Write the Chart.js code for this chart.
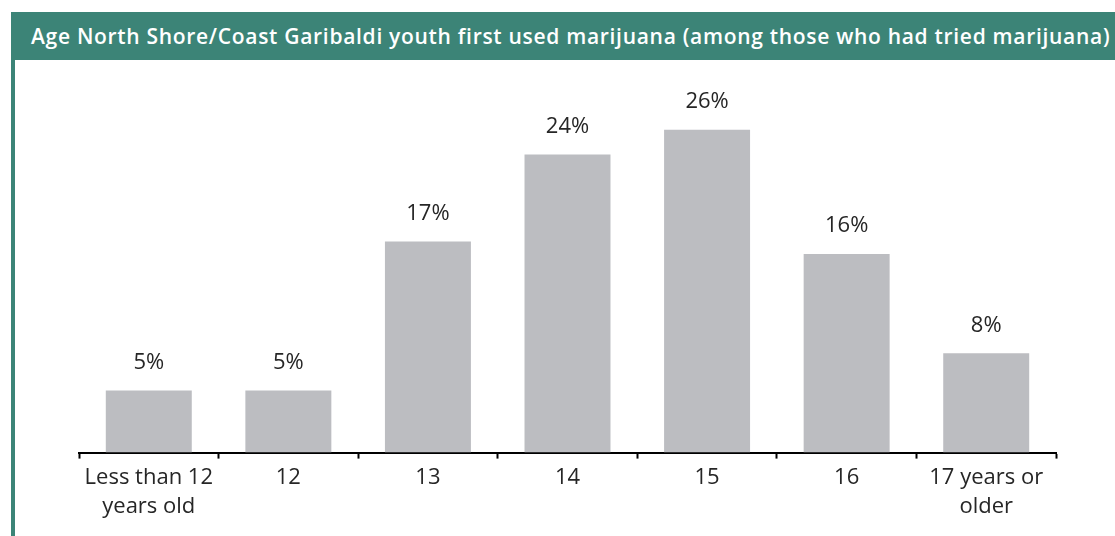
<!DOCTYPE html>
<html lang="en">
<head>
    <meta charset="UTF-8">
    <title>Age first used marijuana</title>
    <script src="https://cdn.jsdelivr.net/npm/chart.js"></script>
    <style>
        body { margin: 0; background: #fff; font-family: "Open Sans", sans-serif; }
        #panel {
            position: absolute; left: 11px; top: 12px; width: 1104px; height: 524px;
            border-left: 4px solid #3c8477; box-sizing: border-box;
        }
        #heading {
            height: 48px; line-height: 48px; background: #3c8477; color: #fff;
            font-weight: 600; font-size: 21px; letter-spacing: 0.7px; padding-left: 20px; margin-left: -4px;
            white-space: nowrap; overflow: hidden;
        }
        #wrap { position: absolute; left: 0; top: 48px; width: 1100px; height: 476px; }
    </style>
</head>
<body>
    <div id="panel">
        <div id="heading">Age North Shore/Coast Garibaldi youth first used marijuana (among those who had tried marijuana)</div>
        <div id="wrap"><canvas id="myChart"></canvas></div>
    </div>

    <script>
        const ages = [['Less than 12', 'years old'], '12', '13', '14', '15', '16', ['17 years or', 'older']];
        const percents = [5, 5, 17, 24, 26, 16, 8];

        const barColor = '#bcbdc1';
        const textColor = '#262626';

        // writes the percentage over each bar
        const valueLabels = {
            id: 'valueLabels',
            afterDatasetsDraw(chart) {
                const ctx = chart.ctx;
                const meta = chart.getDatasetMeta(0);
                ctx.save();
                ctx.font = '22px "Open Sans"';
                ctx.fillStyle = textColor;
                ctx.textAlign = 'center';
                ctx.textBaseline = 'bottom';
                meta.data.forEach((bar, i) => {
                    ctx.fillText(percents[i] + '%', bar.x, bar.y - 17);
                });
                ctx.restore();
            }
        };

        const ctx = document.getElementById('myChart').getContext('2d');
        new Chart(ctx, {
            type: 'bar',
            data: {
                labels: ages,
                datasets: [{
                    data: percents,
                    backgroundColor: barColor,
                    categoryPercentage: 1,
                    barPercentage: 0.616
                }]
            },
            options: {
                responsive: true,
                maintainAspectRatio: false,
                animation: false,
                layout: { padding: { left: 64, right: 59, top: 20, bottom: 10 } },
                plugins: { legend: { display: false }, tooltip: { enabled: false } },
                scales: {
                    x: {
                        offset: true,
                        border: { display: true, color: '#000', width: 2 },
                        grid: {
                            offset: true, drawOnChartArea: false, drawTicks: true,
                            tickLength: 6, tickColor: '#000', tickWidth: 2
                        },
                        ticks: {
                            color: textColor, padding: 4, maxRotation: 0, autoSkip: false,
                            font: { family: 'Open Sans', size: 22, lineHeight: 1.35 }
                        }
                    },
                    y: { display: false, min: 0, max: 30 }
                }
            },
            plugins: [valueLabels]
        });
    </script>
</body>
</html>
